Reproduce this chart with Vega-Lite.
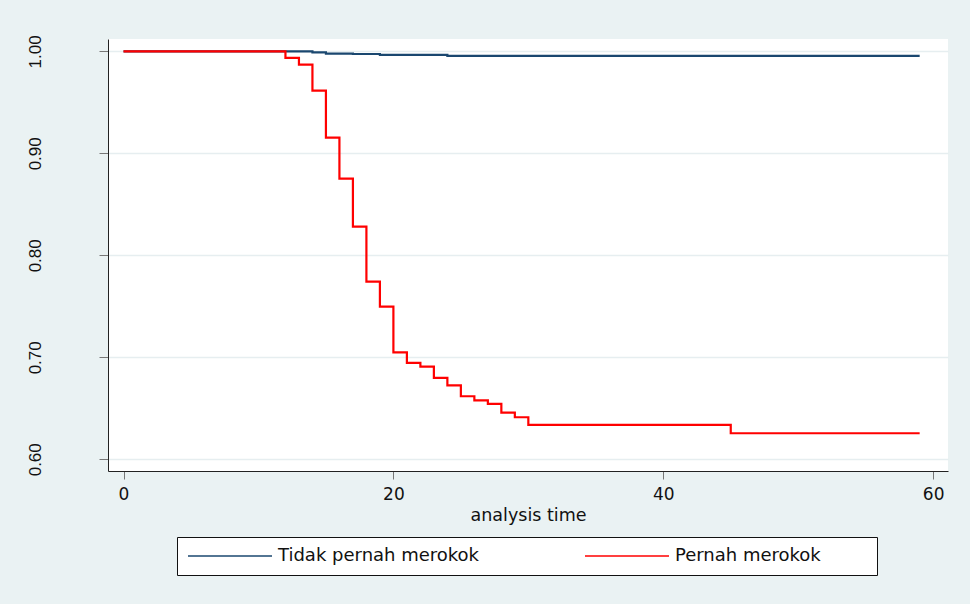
{
  "$schema": "https://vega.github.io/schema/vega-lite/v6.json",
  "autosize": {"type": "none"},
  "width": 840,
  "height": 432,
  "padding": {"left": 108, "top": 39, "right": 22, "bottom": 133},
  "background": "#EAF2F3",
  "config": {
    "view": {"fill": "white", "stroke": null},
    "font": "DejaVu Sans"
  },
  "data": {
    "values": [
      {"t": 0, "s": 1.0, "g": "Tidak pernah merokok"},
      {"t": 14, "s": 0.999, "g": "Tidak pernah merokok"},
      {"t": 15, "s": 0.9978, "g": "Tidak pernah merokok"},
      {"t": 17, "s": 0.9974, "g": "Tidak pernah merokok"},
      {"t": 19, "s": 0.9965, "g": "Tidak pernah merokok"},
      {"t": 24, "s": 0.9955, "g": "Tidak pernah merokok"},
      {"t": 59, "s": 0.9955, "g": "Tidak pernah merokok"},
      {"t": 0, "s": 1.0, "g": "Pernah merokok"},
      {"t": 12, "s": 0.9935, "g": "Pernah merokok"},
      {"t": 13, "s": 0.987, "g": "Pernah merokok"},
      {"t": 14, "s": 0.9615, "g": "Pernah merokok"},
      {"t": 15, "s": 0.9154, "g": "Pernah merokok"},
      {"t": 16, "s": 0.8752, "g": "Pernah merokok"},
      {"t": 17, "s": 0.8281, "g": "Pernah merokok"},
      {"t": 18, "s": 0.7742, "g": "Pernah merokok"},
      {"t": 19, "s": 0.7497, "g": "Pernah merokok"},
      {"t": 20, "s": 0.7049, "g": "Pernah merokok"},
      {"t": 21, "s": 0.6945, "g": "Pernah merokok"},
      {"t": 22, "s": 0.6909, "g": "Pernah merokok"},
      {"t": 23, "s": 0.6798, "g": "Pernah merokok"},
      {"t": 24, "s": 0.6725, "g": "Pernah merokok"},
      {"t": 25, "s": 0.6618, "g": "Pernah merokok"},
      {"t": 26, "s": 0.6578, "g": "Pernah merokok"},
      {"t": 27, "s": 0.6543, "g": "Pernah merokok"},
      {"t": 28, "s": 0.6458, "g": "Pernah merokok"},
      {"t": 29, "s": 0.6412, "g": "Pernah merokok"},
      {"t": 30, "s": 0.6337, "g": "Pernah merokok"},
      {"t": 45, "s": 0.6255, "g": "Pernah merokok"},
      {"t": 59, "s": 0.6255, "g": "Pernah merokok"}
    ]
  },
  "mark": {"type": "line", "interpolate": "step-after", "strokeWidth": 2.2},
  "encoding": {
    "x": {
      "field": "t",
      "type": "quantitative",
      "scale": {"domain": [-1.15, 61.1], "nice": false, "zero": false},
      "axis": {
        "title": "analysis time",
        "values": [0, 20, 40, 60],
        "grid": false,
        "domainColor": "#222222",
        "domainWidth": 1,
        "tickColor": "#777777",
        "tickSize": 8,
        "tickWidth": 1,
        "labelFont": "DejaVu Sans",
        "labelFontSize": 17,
        "labelColor": "#111111",
        "labelPadding": 7,
        "titleFont": "DejaVu Sans",
        "titleFontSize": 17.5,
        "titleFontWeight": "normal",
        "titleColor": "#111111",
        "titlePadding": 4
      }
    },
    "y": {
      "field": "s",
      "type": "quantitative",
      "scale": {"domain": [0.5885, 1.0121], "nice": false, "zero": false},
      "axis": {
        "title": null,
        "values": [0.6, 0.7, 0.8, 0.9, 1.0],
        "format": ".2f",
        "grid": true,
        "gridColor": "#E6EEF0",
        "gridWidth": 1.5,
        "domainColor": "#222222",
        "domainWidth": 1,
        "tickColor": "#777777",
        "tickSize": 9,
        "tickWidth": 1,
        "labelAngle": 270,
        "labelAlign": "center",
        "labelBaseline": "alphabetic",
        "labelPadding": 59,
        "labelFont": "Liberation Sans",
        "labelFontSize": 17,
        "labelColor": "#111111"
      }
    },
    "color": {
      "field": "g",
      "type": "nominal",
      "scale": {"domain": ["Tidak pernah merokok", "Pernah merokok"], "range": ["#1A476F", "#FF0000"]},
      "legend": {
        "title": null,
        "orient": "none",
        "legendX": 69,
        "legendY": 498,
        "direction": "horizontal",
        "columns": 2,
        "gridAlign": "all",
        "columnPadding": 104,
        "symbolType": "stroke",
        "symbolSize": 7056,
        "symbolStrokeWidth": 1.6,
        "clipHeight": 18,
        "labelOffset": 5,
        "labelFont": "DejaVu Sans",
        "labelFontSize": 18,
        "labelColor": "#111111",
        "labelLimit": 500,
        "labelExpr": "datum.value == 'Pernah merokok' ? 'Pernah merokok\u00a0\u2800\u2800\u2800' : datum.label",
        "padding": 10,
        "strokeColor": "#111111",
        "fillColor": "white",
        "cornerRadius": 0
      }
    }
  }
}
